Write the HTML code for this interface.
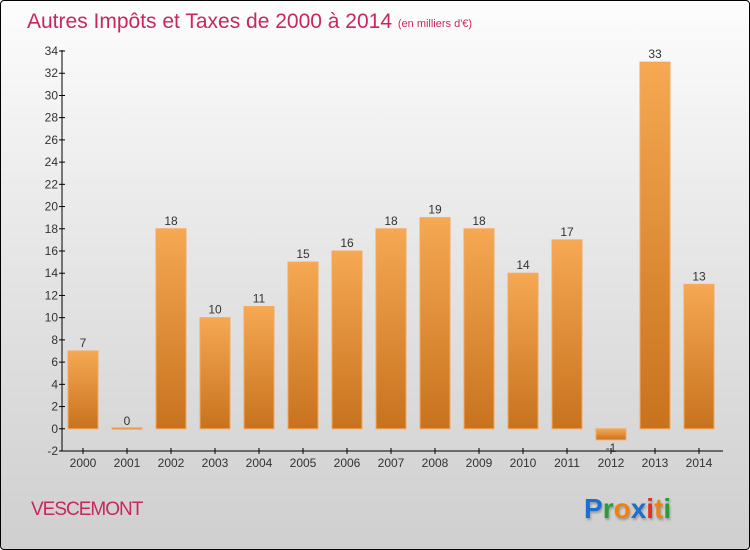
<!DOCTYPE html>
<html><head><meta charset="utf-8"><style>
body{margin:0}
#c{width:748px;height:548px;border:1px solid #000;border-radius:4px;background:linear-gradient(#fdfdfd,#e4e4e4 50%,#cfcfcf);position:relative;overflow:hidden;font-family:"Liberation Sans",sans-serif}
</style></head><body>
<div id="c">
<svg width="748" height="548" id="s">
<defs><linearGradient id="g" x1="0" y1="0" x2="0" y2="1"><stop offset="0" stop-color="#f6a852"/><stop offset="1" stop-color="#c8721e"/></linearGradient></defs>
<text x="26" y="27" font-size="21" fill="#c8285c">Autres Impôts et Taxes de 2000 à 2014 <tspan font-size="11" dy="-1">(en milliers d'€)</tspan></text>
<text x="30" y="514" font-size="19" fill="#c8285c" letter-spacing="-1">VESCEMONT</text>
<text x="583" y="517" font-size="28" font-weight="bold" style="text-shadow:1px 2px 2px #999"><tspan fill="#1a6fd0">P</tspan><tspan fill="#2a9a3a">r</tspan><tspan fill="#f08010">o</tspan><tspan fill="#1a6fd0">x</tspan><tspan fill="#e03020">i</tspan><tspan fill="#f08010">t</tspan><tspan fill="#2a9a3a">i</tspan></text>
<g id="plot"></g>
</svg></div>
<script>
const years=["2000","2001","2002","2003","2004","2005","2006","2007","2008","2009","2010","2011","2012","2013","2014"];
const values=[7,0,18,10,11,15,16,18,19,18,14,17,-1,33,13];
const yTicks=[-2,0,2,4,6,8,10,12,14,16,18,20,22,24,26,28,30,32,34];
const ns="http://www.w3.org/2000/svg",p=document.getElementById('plot');
const y=v=>450-(v+2)*400/36, x=i=>82+i*44;
function mk(t,a,txt){const e=document.createElementNS(ns,t);for(const k in a)e.setAttribute(k,a[k]);if(txt!==undefined)e.textContent=txt;p.appendChild(e);return e;}
let e=mk('line',{x1:61,y1:49,x2:61,y2:450,stroke:'#000'});


e=mk('line',{x1:61,y1:450,x2:722,y2:450,stroke:'#000'});


yTicks.forEach(t=>{
 e=mk('line',{x1:58,y1:y(t),x2:64,y2:y(t),stroke:'#000'});
 
 
 e=mk('text',{x:57,y:y(t)+4,'font-size':12,fill:'#333','text-anchor':'end'},t);
 
 
});
years.forEach((yr,i)=>{
 e=mk('line',{x1:x(i),y1:447,x2:x(i),y2:453,stroke:'#000'});
 
 
 e=mk('text',{x:x(i),y:466,'font-size':12,fill:'#333','text-anchor':'middle'},yr);
 
 
 const v=values[i];const top=Math.min(y(v),y(0)),h=Math.max(Math.abs(y(v)-y(0)),1.5);
 e=mk('rect',{x:x(i)-15,y:v===0?y(0)-1:top,width:30,height:h,fill:'url(#g)',stroke:'#f5a860','stroke-width':1});
 
 
 e=mk('text',{x:x(i),y:(v<0?y(v)+12:y(v)-4),'font-size':12,fill:'#333','text-anchor':'middle'},v);
 
 
});
</script>
</body></html>
